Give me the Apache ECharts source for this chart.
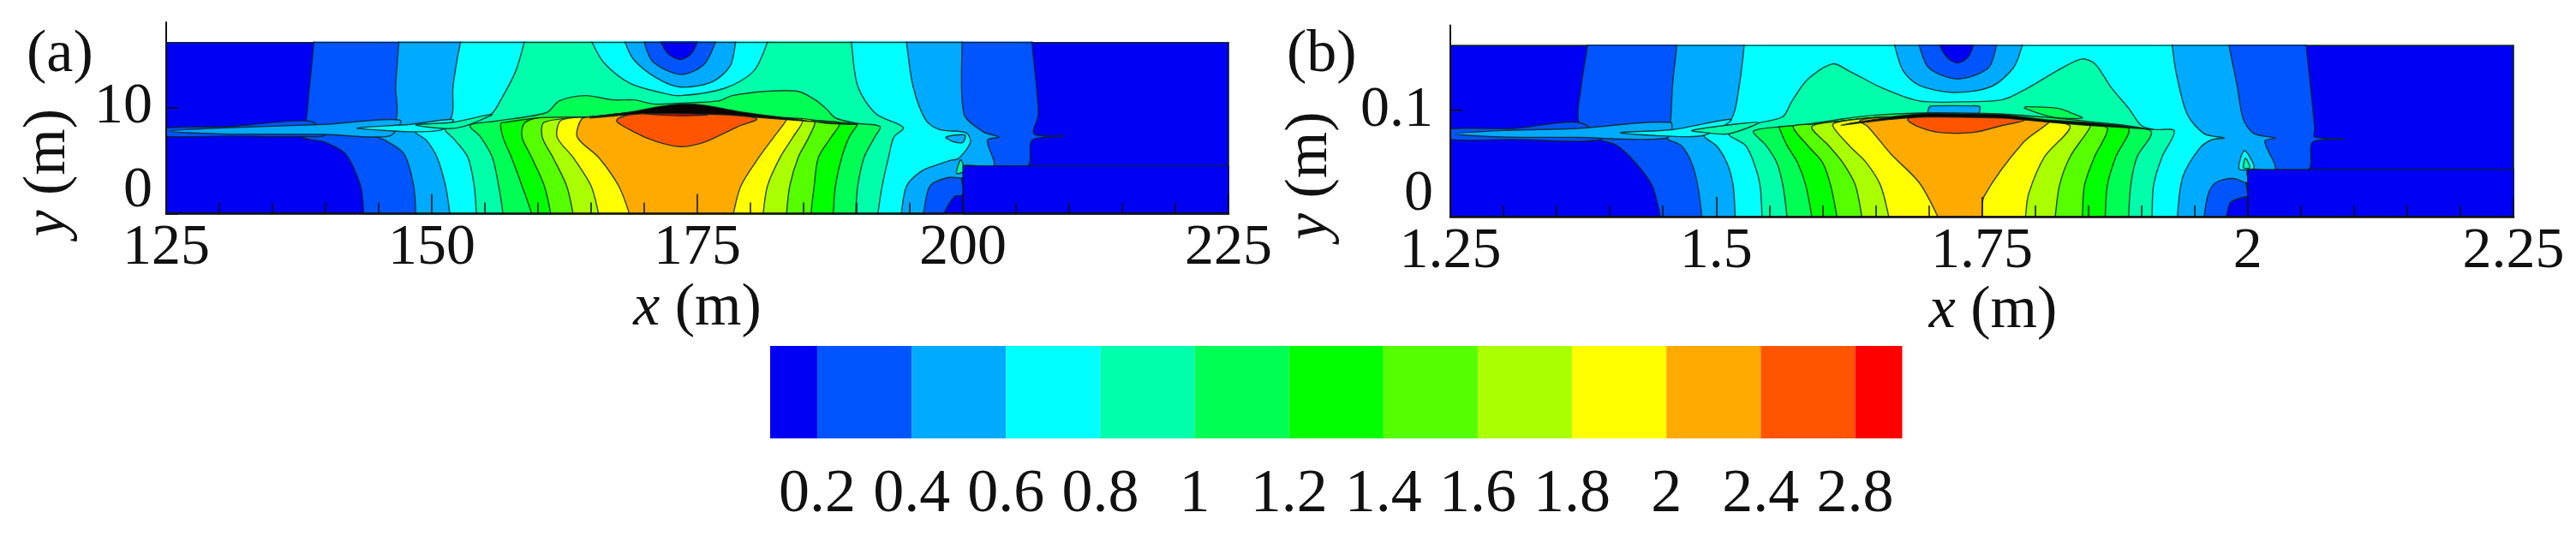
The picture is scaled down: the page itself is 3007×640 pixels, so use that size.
<!DOCTYPE html>
<html><head><meta charset="utf-8">
<style>html,body{margin:0;padding:0;background:#fff}#c{width:3007px;height:640px}</style>
<script src="https://cdn.jsdelivr.net/npm/echarts@6/dist/echarts.min.js"></script>
</head><body><div id="c"></div>
<script>
// colour bands and colour-bar
const bandColors=['#0000f5','#0055ff','#00aaff','#00ffff','#00ffaa','#00ff55','#00ff00','#55ff00','#aaff00','#ffff00','#ffaa00','#ff5500','#ff0000'];
const cbLabels=['0.2','0.4','0.6','0.8','1','1.2','1.4','1.6','1.8','2','2.4','2.8'];
const cbEdges=[-0.5,0,1,2,3,4,5,6,7,8,9,10,11,11.5];
const xTicksA=25, xTicksB=0.25;

// Panel (a): contour curves in metres (x,y)
const aL02=[[138.9,16.5],[138.9,16.1],[138.6,13],[138.4,11],[138.2,8.9],[137.8,7.25],[140,6.7],[141.9,5.6],[143.3,2.6],[143.6,0],[143.6,-.5],[198.2,-.5],[198.2,0],[199.2,1.6],[200,1.8],[200,4.5],[206.1,4.5],[206.5,6.9],[209.6,7.3],[206.7,7.5],[207.1,9.4],[206.5,16.1],[206.5,16.5]];
const aL04=[[146.9,16.5],[146.9,16.1],[146.6,12],[146.6,8.8],[144.3,7.5],[145.6,6.9],[147.4,5.6],[148.3,2.6],[148.5,0],[148.5,-.5],[196.3,-.5],[196.3,0],[196.9,2.6],[198.6,3.4],[200,3.4],[200,4.5],[202.9,4.5],[202.3,6.9],[203.4,7.2],[201.9,7.7],[200.1,9.4],[199.9,16.1],[199.9,16.5]];
const aL06=[[152.7,16.5],[152.7,16.1],[152.4,14.6],[152,11.9],[151.7,8.8],[148.5,7.7],[149.5,6.9],[150.5,5.3],[151.3,2.6],[151.7,0],[151.7,-.5],[194.2,-.5],[194.2,0],[194.7,2.6],[196.1,4],[197.6,4.6],[198.8,5],[199.6,5.2],[200.7,6.7],[200.3,7.6],[197.8,7.9],[196.5,8.8],[195.3,12],[194.7,16.1],[194.7,16.5]];
const aL08=[[158.7,16.5],[158.7,16.1],[157.9,13.4],[156.5,10.7],[155.5,9.3],[151.3,8],[152.2,6.9],[153.4,5.3],[154,2.6],[154.2,0],[154.2,-.5],[192,-.5],[192,0],[192.4,2.6],[193,5.3],[193.5,7.2],[194.4,8.1],[191.8,9.4],[190.1,12],[189.5,16.1],[189.5,16.5]];
const aDome08=[[165.1,16.5],[165.1,16.1],[166.2,14.2],[168.6,12.3],[171.5,11.4],[173.4,11.1],[177.6,11.8],[180.3,13.4],[181.6,16.1],[181.6,16.5]];
const aDome06=[[168.2,16.5],[168.2,16.1],[169,14.5],[171.1,12.8],[173.4,11.9],[176.4,12.4],[178.1,13.9],[178.6,16.1],[178.6,16.5]];
const aDome04=[[170,16.5],[170,16.1],[170.8,14.3],[173.4,13.1],[175.6,14],[176.7,16.1],[176.7,16.5]];
const aDome02=[[171.6,16.5],[171.6,16.1],[172.3,15],[173.4,14.5],[174.4,15],[175,16.1],[175,16.5]];
const aF02=[[124.5,7.3],[124.5,8],[131,8.2],[138.5,8.7],[140,7.4],[137.8,7.25],[131,7.3]];
const aF04=[[125.3,7.75],[130,8.05],[140,8.4],[147,8.8],[146,7.3],[140,7.45],[130,7.5]];
const aF06=[[143,8.05],[148,8.4],[152,8.85],[151,7.9],[148.5,7.7],[146,7.8]];
const aF08=[[148.5,8.35],[152,8.6],[155.7,9.35],[153,8.2],[151.3,8]];
const aL10=[[153.6,8.3],[156,8.7],[160.8,9.5],[162,10.6],[164.5,11.1],[167,10.7],[169,10.7],[171,10.3],[173.4,10.4],[177,10.6],[178.3,11.1],[181.4,11.5],[184.5,11.5],[186.1,10.7],[187.2,9.8],[188,9],[190,8.5],[192.2,8.2],[191.7,7.2],[190.7,5.3],[190.1,2.6],[189.9,0],[189.9,-.5],[156.7,-.5],[156.7,0],[156.3,2.6],[155.7,5.3],[154.6,7.2]];
const aRidge=[[157,8.6],[160,9],[165,9.1],[170,9.6],[173.4,9.7],[178,9.4],[183,9],[187,8.7],[190,8.45]];
const aL12L=[[159.4,-.5],[159.4,0],[158.5,2.6],[157.5,5.3],[156.7,7.2],[156.5,8.5]], aL12R=[[190.1,8.4],[189.3,7.2],[188.6,5.3],[188,2.6],[187.8,0],[187.8,-.5]];
const aL14L=[[161.2,-.5],[161.2,0],[160.6,2.6],[159.4,5.3],[158.5,7.2],[158.7,8.5]], aL14R=[[188.4,8.5],[187.6,7.2],[186.4,5.3],[186,2.6],[185.7,0],[185.7,-.5]];
const aL16L=[[163.3,-.5],[163.3,0],[162.7,2.6],[161.4,5.3],[160.4,7.2],[160.6,8.6]], aL16R=[[186,8.7],[185.5,7.2],[184.5,5.3],[183.7,2.6],[183.4,0],[183.4,-.5]];
const aL18L=[[165.7,-.5],[165.7,0],[165,2.6],[163.3,5.3],[161.8,7.2],[162.2,8.8]], aL18R=[[184.9,8.8],[184,7.2],[182.8,5.3],[181.6,2.6],[181.2,0],[181.2,-.5]];
const aL20L=[[168.6,-.5],[168.6,0],[167.6,2.6],[165.7,5.3],[163.7,7.2],[164.1,8.9]], aL20R=[[183.5,9],[182.2,7.2],[180.8,5.3],[179.1,2.6],[178.4,0],[178.4,-.5]];
const aL24=[[167.4,8.8],[169,7.7],[171.1,6.8],[173.4,6.3],[175.6,6.7],[177.6,7.6],[179.1,8.3],[180.6,8.9],[178,9.4],[173.4,9.7],[170,9.6]];
const aL28=[[170,9.4],[173.4,9.2],[176,9.3],[173.4,9.5]];
const aLens=[[164.9,9],[169,9.6],[171,10],[173.4,10.3],[175.6,10.2],[179.5,9.5],[183.4,9],[187.2,8.5],[190,8.4],[185.3,8.7],[181.4,9],[177.6,9.3],[173.4,9.4],[169.8,9.4]];
const aStep=[[200,-.5],[200,4.5],[225.5,4.5],[225.5,-.5]];
const aSliver=[[198.4,7.2],[200.2,7.4],[200,6.7],[199,6.8]];
const aSpike=[[199.4,3.8],[199.8,5.05],[200.1,4]];
const aDomain=[[125,0],[125,16.1],[225,16.1],[225,0]];

// Panel (b): contour curves in metres (x,y)
const bL02=[[1.379,.166],[1.379,.161],[1.3733,.1236],[1.371,.0886],[1.391,.0725],[1.4065,.067],[1.424,.051],[1.4397,.0295],[1.4476,0],[1.4476,-.005],[1.98,-.005],[1.98,0],[1.984,.0134],[1.998,.0188],[2,.0188],[2,.0443],[2.057,.0443],[2.061,.07],[2.091,.073],[2.063,.075],[2.063,.083],[2.059,.1236],[2.055,.161],[2.055,.166]];
const bL04=[[1.463,.166],[1.463,.161],[1.459,.1236],[1.457,.0886],[1.4534,.0739],[1.467,.067],[1.4768,.051],[1.4827,.0295],[1.4866,0],[1.4866,-.005],[1.959,-.005],[1.959,0],[1.963,.0215],[1.97,.032],[1.986,.036],[2,.032],[2,.0443],[2.026,.0443],[2.016,.071],[2.026,.074],[2.006,.078],[1.996,.0913],[1.99,.1236],[1.9825,.161],[1.9825,.166]];
const bL06=[[1.5264,.166],[1.5264,.161],[1.5218,.1236],[1.514,.0913],[1.4886,.0765],[1.5,.067],[1.51,.051],[1.516,.0295],[1.5179,0],[1.5179,-.005],[1.934,-.005],[1.934,.0027],[1.939,.0376],[1.955,.0645],[1.9667,.0725],[1.978,.074],[1.959,.078],[1.943,.0967],[1.933,.134],[1.929,.161],[1.929,.166]];
const bL08=[[1.512,.0779],[1.5276,.067],[1.5354,.051],[1.5413,.0295],[1.5432,0],[1.5432,-.005],[1.91,-.005],[1.91,0],[1.9115,.0295],[1.9195,.0564],[1.931,.0806],[1.9115,.082],[1.8997,.086],[1.888,.102],[1.872,.1209],[1.8563,.1437],[1.8445,.1483],[1.825,.1397],[1.793,.1209],[1.7696,.11],[1.73,.108],[1.691,.1088],[1.6565,.1209],[1.625,.137],[1.6096,.1437],[1.586,.129],[1.5706,.1074],[1.5628,.094],[1.54,.088]];
const bDome06=[[1.668,.166],[1.668,.161],[1.676,.137],[1.691,.1236],[1.7223,.1168],[1.758,.122],[1.7795,.1397],[1.788,.161],[1.788,.166]];
const bDome04=[[1.691,.166],[1.691,.161],[1.70,.14],[1.727,.1295],[1.756,.1397],[1.7637,.161],[1.7637,.166]];
const bDome02=[[1.7105,.166],[1.7105,.161],[1.717,.15],[1.727,.1445],[1.737,.15],[1.742,.161],[1.742,.166]];
const bF02=[[1.245,.073],[1.245,.082],[1.31,.083],[1.371,.0886],[1.391,.0725],[1.31,.0725]];
const bF04=[[1.255,.0778],[1.30,.081],[1.37,.083],[1.457,.0886],[1.4534,.0739],[1.37,.0745],[1.30,.075]];
const bF06=[[1.41,.079],[1.46,.082],[1.514,.0913],[1.4886,.0765],[1.45,.076]];
const bF08=[[1.477,.081],[1.51,.086],[1.54,.0885],[1.512,.0779],[1.49,.079]];
const bBlob06=[[1.7007,.1034],[1.7066,.1042],[1.738,.1042],[1.748,.1034],[1.746,.0967],[1.70,.0967]];
const bBlob10=[[1.79,.102],[1.7913,.1034],[1.821,.102],[1.833,.098],[1.8445,.0927],[1.817,.0935]];
const bL10=[[1.5354,.0806],[1.58,.086],[1.62,.092],[1.65,.0955],[1.691,.0975],[1.73,.0975],[1.77,.0965],[1.81,.0935],[1.85,.0895],[1.89,.085],[1.9096,.0792],[1.896,.0564],[1.89,.0295],[1.888,0],[1.888,-.005],[1.5667,-.005],[1.5667,0],[1.5628,.0295],[1.557,.051],[1.547,.067]];
const bRidge=[[1.56,.0846],[1.59,.087],[1.62,.09],[1.65,.093],[1.691,.0945],[1.73,.095],[1.77,.0935],[1.809,.09],[1.848,.0865],[1.888,.0835]];
const bL12L=[[1.59,-.005],[1.59,0],[1.5843,.0295],[1.5765,.051],[1.5667,.067],[1.559,.0846]], bL12R=[[1.888,.083],[1.876,.0564],[1.868,.0295],[1.866,0],[1.866,-.005]];
const bL14L=[[1.6136,-.005],[1.6136,0],[1.6077,.0295],[1.6,.051],[1.586,.067],[1.5725,.0846]], bL14R=[[1.868,.083],[1.856,.0564],[1.8465,.0295],[1.8445,0],[1.8445,-.005]];
const bL16L=[[1.637,-.005],[1.637,0],[1.631,.0295],[1.619,.051],[1.6057,.067],[1.59,.0846]], bL16R=[[1.852,.0846],[1.833,.0564],[1.823,.0295],[1.819,0],[1.819,-.005]];
const bL18L=[[1.6624,-.005],[1.6624,0],[1.6546,.0295],[1.641,.051],[1.625,.067],[1.6096,.086]], bL18R=[[1.833,.0846],[1.809,.0564],[1.794,.0215],[1.791,0],[1.791,-.005]];
const bL20L=[[1.7085,-.005],[1.7085,0],[1.691,.032],[1.6643,.059],[1.6428,.0846],[1.635,.09]], bL20R=[[1.813,.0886],[1.789,.0698],[1.752,.019],[1.75,0],[1.75,-.005]];
const bL24=[[1.68,.0913],[1.69,.0846],[1.71,.0792],[1.742,.0792],[1.77,.086],[1.79,.0906],[1.77,.0935],[1.73,.095],[1.691,.0945]];
const bLens=[[1.6175,.086],[1.65,.0915],[1.691,.0967],[1.73,.0967],[1.7696,.0959],[1.809,.0913],[1.848,.0886],[1.888,.0846],[1.9115,.082],[1.888,.0835],[1.848,.086],[1.809,.0892],[1.7696,.0927],[1.73,.0935],[1.691,.0935],[1.65,.09]];
const bStep=[[2,-.005],[2,.0443],[2.255,.0443],[2.255,-.005]];
const bSpike3=[[1.992,.045],[1.997,.062],[2.006,.046]];
const bSpike4=[[1.996,.046],[1.998,.055],[2.002,.046]];
const bDomain=[[1.25,0],[1.25,.161],[2.25,.161],[2.25,0]];

function ridged(L,R,ridge){
  const a=L[L.length-1][0], b=R[0][0];
  return L.concat(ridge.filter(p=>p[0]>a&&p[0]<b),R);
}
const LINE='rgba(15,35,30,0.85)';
const aLayers=[
 {p:aDomain,c:0,sharp:1},
 {p:aL02,c:1},{p:aF02,c:1},{p:aL04,c:2},{p:aF04,c:2},{p:aL06,c:3},{p:aF06,c:3},{p:aL08,c:4},{p:aF08,c:4},
 {p:aDome08,c:3},{p:aDome06,c:2},{p:aDome04,c:1},{p:aDome02,c:0},
 {p:aL10,c:5},{p:ridged(aL12L,aL12R,aRidge),c:6},{p:ridged(aL14L,aL14R,aRidge),c:7},{p:ridged(aL16L,aL16R,aRidge),c:8},
 {p:ridged(aL18L,aL18R,aRidge),c:9},{p:ridged(aL20L,aL20R,aRidge),c:10},{p:aL24,c:11},{p:aL28,c:12},
 {p:aLens,f:'#0a0505'},{p:aSliver,c:2},{p:aSpike,c:4},{p:aStep,c:0,sharp:1},{p:aDomain,f:'none',sharp:1}
];
const bLayers=[
 {p:bDomain,c:0,sharp:1},
 {p:bL02,c:1},{p:bF02,c:1},{p:bL04,c:2},{p:bF04,c:2},{p:bL06,c:3},{p:bF06,c:3},{p:bL08,c:4},{p:bF08,c:4},
 {p:bDome06,c:2},{p:bDome04,c:1},{p:bDome02,c:0},{p:bBlob06,c:2},{p:bBlob10,c:5},
 {p:bL10,c:5},{p:ridged(bL12L,bL12R,bRidge),c:6},{p:ridged(bL14L,bL14R,bRidge),c:7},{p:ridged(bL16L,bL16R,bRidge),c:8},
 {p:ridged(bL18L,bL18R,bRidge),c:9},{p:ridged(bL20L,bL20R,bRidge),c:10},{p:bL24,c:11},
 {p:bLens,f:'#0a0505'},{p:bSpike3,c:3},{p:bSpike4,c:4},{p:bStep,c:0,sharp:1},{p:bDomain,f:'none',sharp:1}
];
function contourSeries(layers,idx,dom){
  return {type:'custom',xAxisIndex:idx,yAxisIndex:idx,silent:true,z:2,clip:false,
    data:layers.map(l=>[l.p[0][0],l.p[0][1]]),
    renderItem(params,api){
      const l=layers[params.dataIndex];
      const pts=l.p.map(q=>api.coord(q));
      const tl=api.coord([dom[0][0],dom[1][1]]), br=api.coord([dom[2][0],dom[0][1]]);
      return {type:'polygon',
        shape:{points:pts,smooth:l.sharp?0:0.3},
        style:{fill:l.f||bandColors[l.c],stroke:LINE,lineWidth:1.4},
        clipPath:{type:'rect',shape:{x:tl[0]-1,y:tl[1]-1,width:br[0]-tl[0]+2,height:br[1]-tl[1]+2}}
      };
    }};
}
const FONT='"Liberation Serif","Times New Roman",serif';
const INK='#111';
function xAxisOf(grid,min,max,interval,pad){
  return {type:'value',gridIndex:grid,min,max,interval,z:10,
    name:'{i|x} (m)',nameLocation:'middle',nameGap:72,
    nameTextStyle:{fontFamily:FONT,fontSize:70,color:INK,padding:pad,rich:{i:{fontFamily:FONT,fontStyle:'italic',fontSize:70,color:INK}}},
    axisLine:{show:true,onZero:false,lineStyle:{color:INK,width:2.5}},
    axisTick:{show:true,inside:true,length:23,lineStyle:{color:INK,width:1.5}},
    minorTick:{show:true,splitNumber:5,length:13,lineStyle:{color:INK,width:1.5}},
    axisLabel:{fontFamily:FONT,fontSize:68,color:INK,margin:7,hideOverlap:false,showMinLabel:true,showMaxLabel:true},
    splitLine:{show:false},minorSplitLine:{show:false}};
}
function yAxisOf(grid,min,max,interval,margin,gap){
  return {type:'value',gridIndex:grid,min,max,interval,z:10,
    name:'{i|y} (m)',nameLocation:'middle',nameGap:gap,nameRotate:90,
    nameTextStyle:{fontFamily:FONT,fontSize:70,color:INK,padding:[0,128,0,0],rich:{i:{fontFamily:FONT,fontStyle:'italic',fontSize:70,color:INK}}},
    axisLine:{show:true,onZero:false,lineStyle:{color:INK,width:2}},
    axisTick:{show:true,inside:true,length:14,lineStyle:{color:INK,width:1.5}},
    axisLabel:{fontFamily:FONT,fontSize:68,color:INK,margin,showMaxLabel:false,showMinLabel:true,verticalAlignMinLabel:'bottom',lineHeight:52},
    splitLine:{show:false}};
}
const chart=echarts.init(document.getElementById('c'),null,{renderer:'canvas'});
chart.setOption({
  animation:false,backgroundColor:'#fff',
  grid:[
    {left:194,top:26,width:1240,height:223.5},
    {left:1693,top:29.5,width:1241,height:223.5},
    {left:899,top:404,width:1321.5,height:108}
  ],
  xAxis:[
    xAxisOf(0,125,225,xTicksA,[0,0,0,0]),
    xAxisOf(1,1.25,2.25,xTicksB,[0,0,0,26]),
    {type:'value',gridIndex:2,min:-0.5,max:11.5,axisLine:{show:false},axisTick:{show:false},splitLine:{show:false},
     axisLabel:{fontFamily:FONT,fontSize:72,color:INK,margin:30,customValues:cbLabels.map((s,i)=>i),formatter:v=>cbLabels[v]}}
  ],
  yAxis:[
    yAxisOf(0,0,18,10,16,102),
    yAxisOf(1,0,0.18,0.1,20,128),
    {type:'value',gridIndex:2,min:0,max:1,show:false}
  ],
  graphic:[
    {type:'text',left:31,top:30,style:{text:'(a)',font:'70px '+FONT,fill:INK}},
    {type:'text',left:1502,top:30,style:{text:'(b)',font:'70px '+FONT,fill:INK}}
  ],
  series:[
    contourSeries(aLayers,0,aDomain),
    contourSeries(bLayers,1,bDomain),
    {type:'custom',xAxisIndex:2,yAxisIndex:2,silent:true,
     data:bandColors.map((c,i)=>[cbEdges[i],cbEdges[i+1]]),
     renderItem(params,api){
       const a=api.coord([api.value(0),1]), b=api.coord([api.value(1),0]);
       return {type:'rect',shape:{x:a[0],y:a[1],width:b[0]-a[0],height:b[1]-a[1]},style:{fill:bandColors[params.dataIndex]}};
     }}
  ]
});
</script></body></html>
